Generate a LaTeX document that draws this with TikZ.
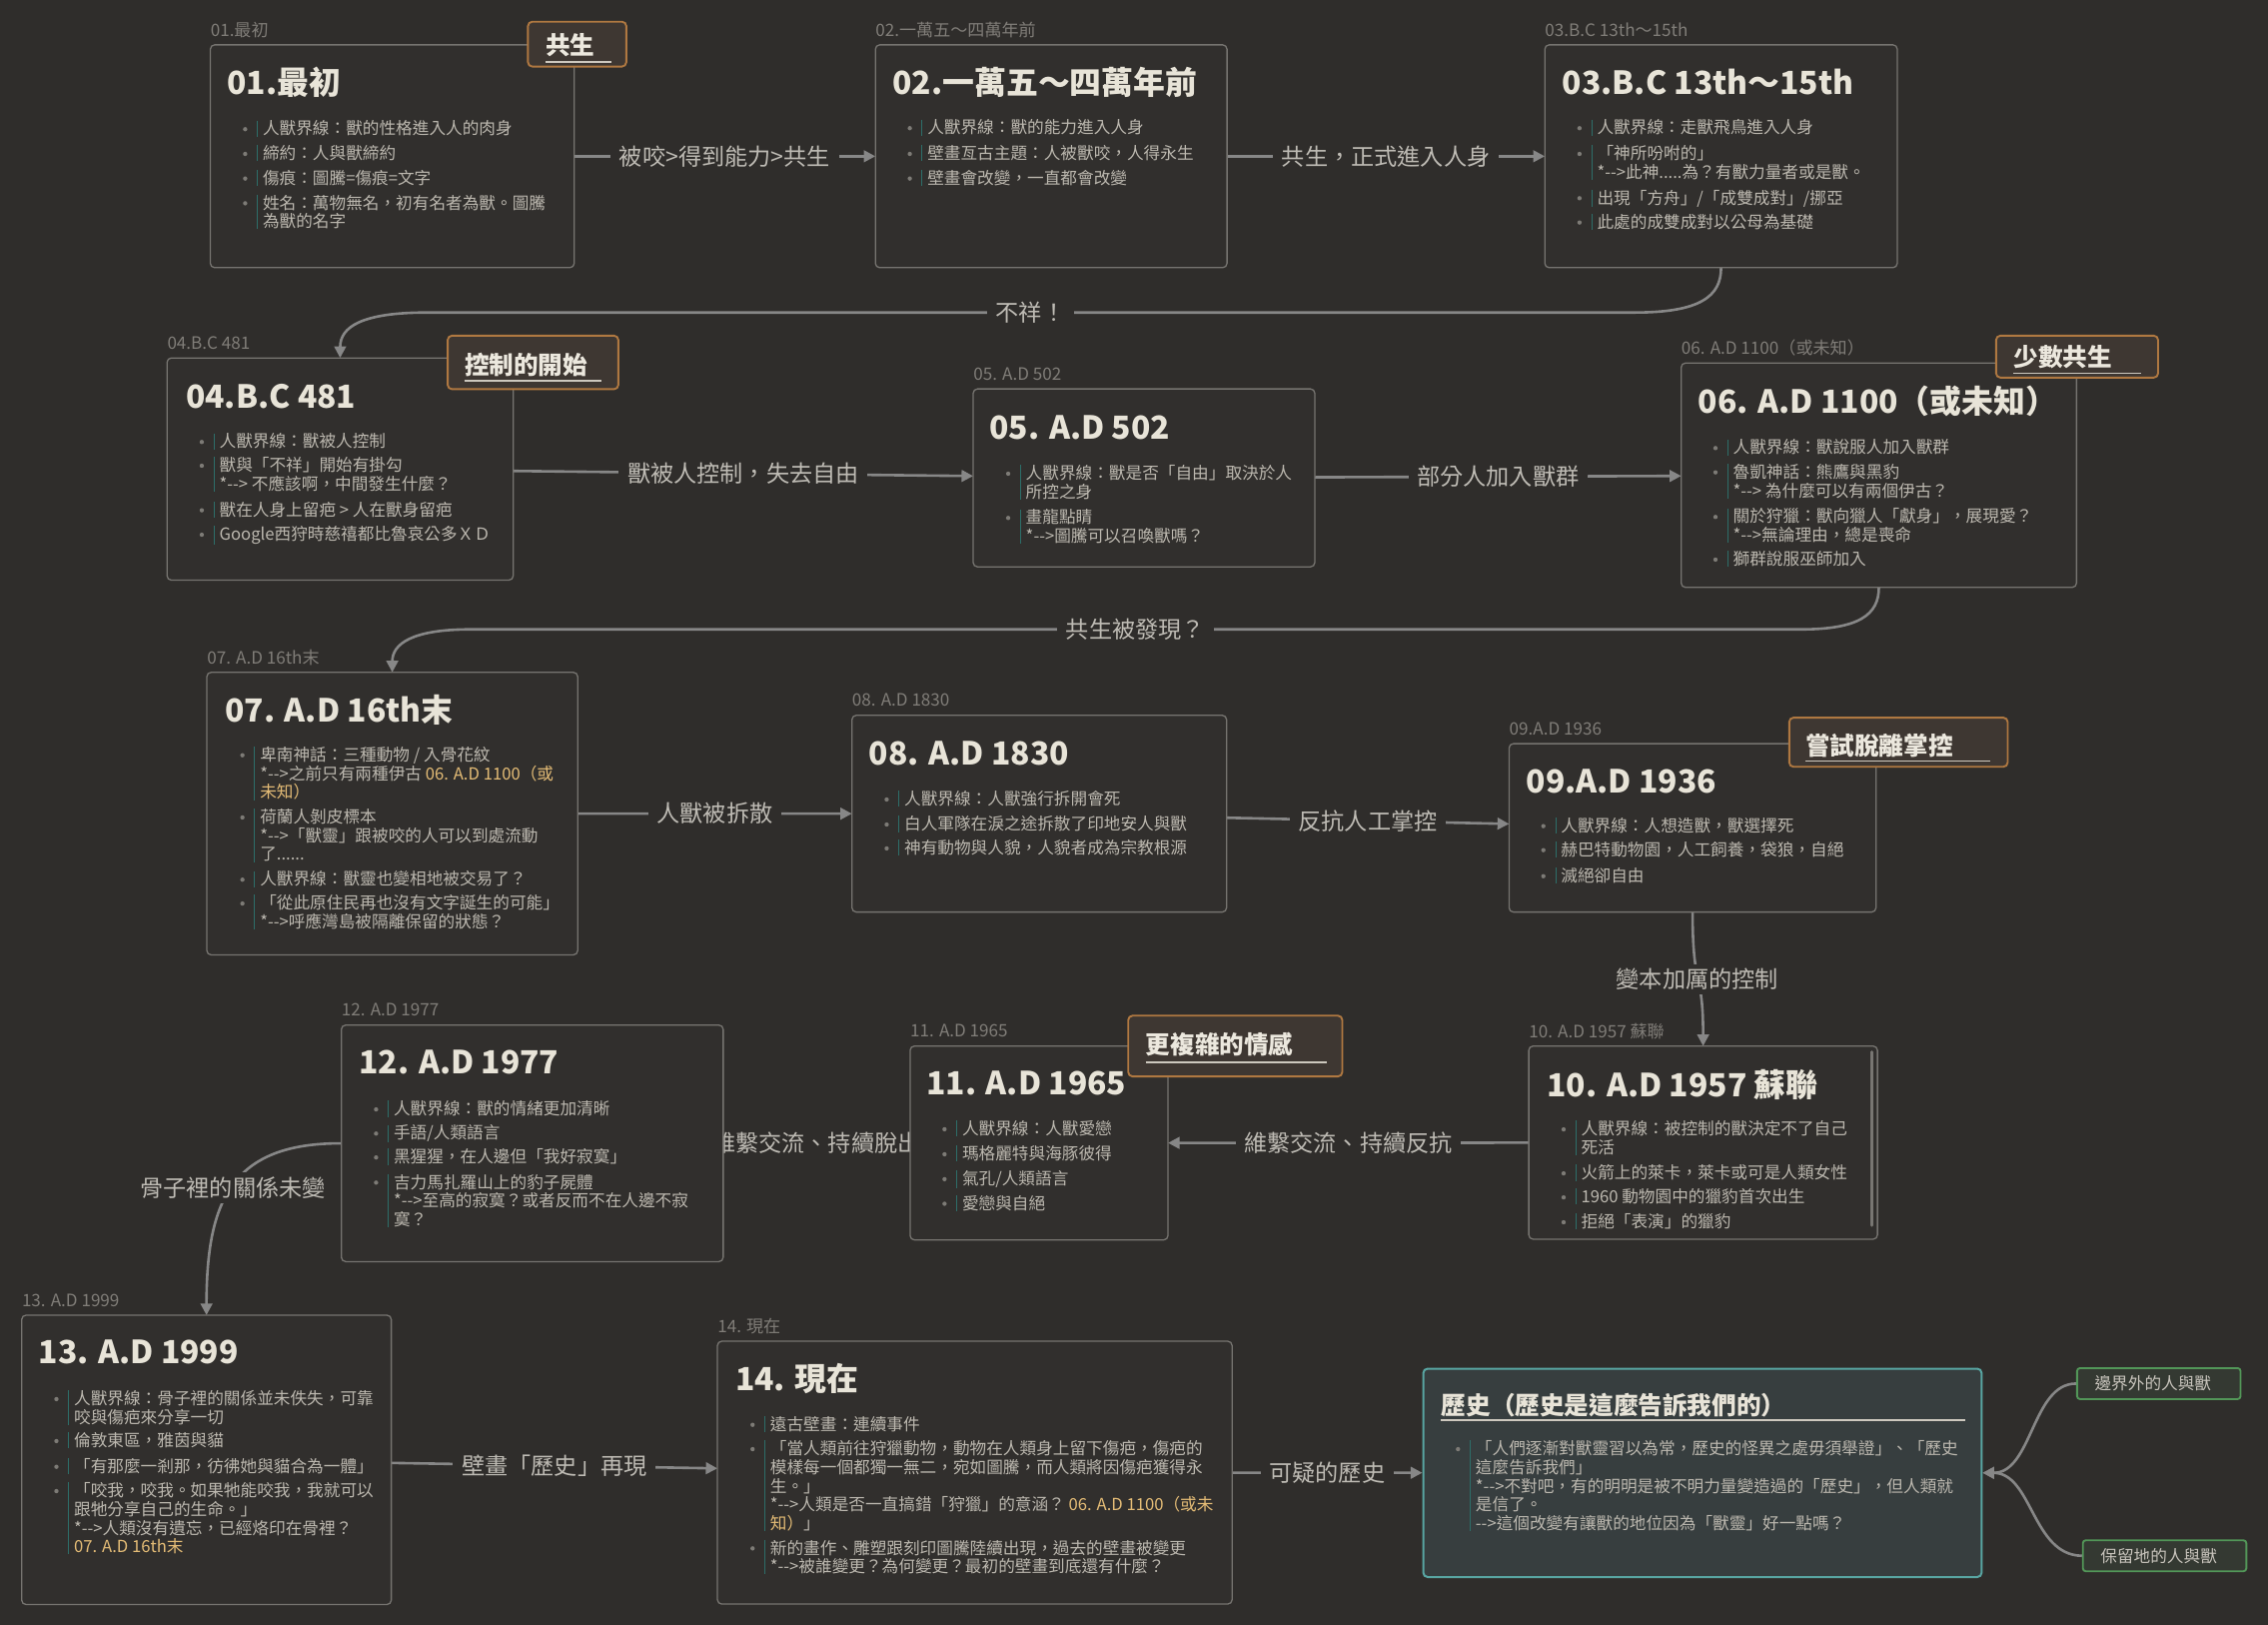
\documentclass[tikz,border=0pt]{standalone}
\usepackage{fontspec}
\setmainfont{Noto Sans CJK TC}[Ligatures=TeXOff]
\usetikzlibrary{arrows.meta,fit}
\definecolor{bgc}{RGB}{47,45,43}
\definecolor{boxfill}{RGB}{49,47,45}
\definecolor{boxc}{RGB}{118,116,112}
\definecolor{titlec}{RGB}{232,228,216}
\definecolor{bodyc}{RGB}{188,184,175}
\definecolor{smallc}{RGB}{128,125,120}
\definecolor{tealc}{RGB}{45,110,105}
\definecolor{bulc}{RGB}{125,123,118}
\definecolor{connc}{RGB}{135,135,135}
\definecolor{clabc}{RGB}{190,187,180}
\definecolor{tagc}{RGB}{175,120,65}
\definecolor{tagfill}{RGB}{62,55,50}
\definecolor{tagtextc}{RGB}{236,232,222}
\definecolor{ulc}{RGB}{205,200,190}
\definecolor{refc}{RGB}{228,188,118}
\definecolor{histfill}{RGB}{55,62,63}
\definecolor{histc}{RGB}{88,165,162}
\definecolor{sidefill}{RGB}{52,57,50}
\definecolor{sidec}{RGB}{82,150,88}
\definecolor{sidetextc}{RGB}{200,196,188}
\definecolor{scrollc}{RGB}{120,118,114}
\pgfdeclarelayer{backlayer}
\pgfdeclarelayer{connlayer}
\pgfsetlayers{backlayer,connlayer,main}
\tikzset{
 box/.style={draw=boxc, fill=boxfill, line width=0.9pt, rounded corners=3pt, inner sep=0pt, outer sep=0pt},
 toplbl/.style={font=\fontsize{11.8}{13}\selectfont, text=smallc, inner sep=0pt, anchor=west},
 ttl/.style={font=\fontsize{22}{26}\selectfont\bfseries, text=titlec, inner sep=0pt, anchor=west},
 itm/.style={font=\fontsize{11.5}{12.9}\selectfont, text=bodyc, inner sep=0pt, align=left, anchor=north west},
 tbar/.style={draw=tealc, line width=0.7pt},
 bul/.style={fill=bulc},
 conn/.style={draw=connc, line width=1.8pt, -{Triangle[length=8pt,width=8pt]}},
 clabel/.style={font=\fontsize{16}{18}\selectfont, text=clabc, fill=bgc, inner xsep=6pt, inner ysep=3pt},
 tagbox/.style={draw=tagc, fill=tagfill, line width=1.3pt, rounded corners=3pt, inner sep=0pt},
 tagtxt/.style={font=\fontsize{17}{20}\selectfont\bfseries, text=tagtextc, inner sep=0pt, anchor=west},
 tagline/.style={draw=ulc, line width=1.3pt},
 histbox/.style={draw=histc, fill=histfill, line width=1.4pt, rounded corners=3pt, inner sep=0pt},
 histttl/.style={font=\fontsize{17}{20}\selectfont\bfseries, text=titlec, inner sep=0pt, anchor=west},
 sidebox/.style={draw=sidec, fill=sidefill, line width=1.3pt, rounded corners=2pt, inner sep=0pt},
 sidetxt/.style={font=\fontsize{11.5}{13}\selectfont, text=sidetextc, inner sep=0pt, anchor=west},
}
\newcommand\titem[4]{%
  \node[itm] (#1) at (#2,-#3+6) {#4};
  \draw[tbar] ([xshift=-3.5pt]#1.north west) -- ([xshift=-3.5pt]#1.south west);
  \fill[bul] ([xshift=-12pt,yshift=-6pt]#1.north west) circle (1.5pt);
}
\newcommand\tlbox[6]{%
  \node[box, fit={(#2,-#3) (#4,-#5)}] (#1) {};
  \node[toplbl] (#1s) at (#2,-#3+10.3) {#6};
}
\begin{document}
\begin{tikzpicture}[x=1pt,y=1pt]
\begin{pgfonlayer}{backlayer}
\fill[bgc] (0,0) rectangle (1568,-1123);
\end{pgfonlayer}
\useasboundingbox (0,0) rectangle (1568,-1123);

% ---------- Box 01
\tlbox{b1}{145.4}{31}{397}{185}{01.最初}
\node[ttl] (b1h) at (157,-57) {01.最初};
\titem{b1i1}{181.5}{89.3}{人獸界線：獸的性格進入人的肉身}
\titem{b1i2}{181.5}{106.4}{締約：人與獸締約}
\titem{b1i3}{181.5}{123.4}{傷痕：圖騰=傷痕=文字}
\titem{b1i4}{181.5}{140.5}{姓名：萬物無名，初有名者為獸。圖騰\\為獸的名字}
\node[tagbox, fit={(365,-15) (433,-46)}] (g1) {};
\node[tagtxt] (g1t) at (377,-31) {共生};
\draw[tagline] (377,-43) -- (423,-43);

% ---------- Box 02
\tlbox{b2}{605.2}{31}{848.3}{185}{02.一萬五～四萬年前}
\node[ttl] (b2h) at (617,-57) {02.一萬五～四萬年前};
\titem{b2i1}{641}{88.6}{人獸界線：獸的能力進入人身}
\titem{b2i2}{641}{106.4}{壁畫亙古主題：人被獸咬，人得永生}
\titem{b2i3}{641}{123.4}{壁畫會改變，一直都會改變}

% ---------- Box 03
\tlbox{b3}{1068}{31}{1311.7}{185}{03.B.C 13th～15th}
\node[ttl] (b3h) at (1080,-56.5) {03.B.C 13th～15th};
\titem{b3i1}{1104}{88.6}{人獸界線：走獸飛鳥進入人身}
\titem{b3i2}{1104}{106.4}{「神所吩咐的」\\*-->此神.....為？有獸力量者或是獸。}
\titem{b3i3}{1104}{137}{出現「方舟」/「成雙成對」/挪亞}
\titem{b3i4}{1104}{153.8}{此處的成雙成對以公母為基礎}

% ---------- Box 04
\tlbox{b4}{115.5}{247.4}{354.8}{401}{04.B.C 481}
\node[ttl] (b4h) at (128.4,-274) {04.B.C 481};
\titem{b4i1}{151.5}{305.5}{人獸界線：獸被人控制}
\titem{b4i2}{151.5}{321.9}{獸與「不祥」開始有掛勾\\*--> 不應該啊，中間發生什麼？}
\titem{b4i3}{151.5}{352.7}{獸在人身上留疤 > 人在獸身留疤}
\titem{b4i4}{151.5}{369.6}{Google西狩時慈禧都比魯哀公多ＸＤ}
\node[tagbox, fit={(309.5,-232) (427.5,-269)}] (g4) {};
\node[tagtxt] (g4t) at (321,-252) {控制的開始};
\draw[tagline] (321,-263) -- (416,-263);

% ---------- Box 05
\tlbox{b5}{672.8}{268.8}{909}{391.8}{05. A.D 502}
\node[ttl] (b5h) at (684,-295.4) {05. A.D 502};
\titem{b5i1}{709}{327.4}{人獸界線：獸是否「自由」取決於人\\所控之身}
\titem{b5i2}{709}{358}{畫龍點睛\\*-->圖騰可以召喚獸嗎？}

% ---------- Box 06
\tlbox{b6}{1162.3}{250.9}{1435.6}{406}{06. A.D 1100（或未知）}
\node[ttl] (b6h) at (1174,-277.5) {06. A.D 1100（或未知）};
\titem{b6i1}{1198}{309.7}{人獸界線：獸說服人加入獸群}
\titem{b6i2}{1198}{326.5}{魯凱神話：熊鷹與黑豹\\*--> 為什麼可以有兩個伊古？}
\titem{b6i3}{1198}{357.3}{關於狩獵：獸向獵人「獻身」，展現愛？\\*-->無論理由，總是喪命}
\titem{b6i4}{1198}{386.8}{獅群說服巫師加入}
\node[tagbox, fit={(1380,-232) (1492,-261)}] (g6) {};
\node[tagtxt] (g6t) at (1392,-247) {少數共生};
\draw[tagline] (1392,-258) -- (1480,-258);

% ---------- Box 07
\tlbox{b7}{143}{464.7}{399.4}{660}{07. A.D 16th末}
\node[ttl] (b7h) at (155.4,-490.5) {07. A.D 16th末};
\titem{b7i1}{179.6}{522}{卑南神話：三種動物 / 入骨花紋\\*-->之前只有兩種伊古 \textcolor{refc}{06. A.D 1100（或}\\\textcolor{refc}{未知）}}
\titem{b7i2}{179.6}{565}{荷蘭人剝皮標本\\*-->「獸靈」跟被咬的人可以到處流動\\了......}
\titem{b7i3}{179.6}{608}{人獸界線：獸靈也變相地被交易了？}
\titem{b7i4}{179.6}{624.5}{「從此原住民再也沒有文字誕生的可能」\\*-->呼應灣島被隔離保留的狀態？}

% ---------- Box 08
\tlbox{b8}{589}{494.4}{848}{630.4}{08. A.D 1830}
\node[ttl] (b8h) at (600.7,-520.8) {08. A.D 1830};
\titem{b8i1}{625}{552.6}{人獸界線：人獸強行拆開會死}
\titem{b8i2}{625}{569.9}{白人軍隊在淚之途拆散了印地安人與獸}
\titem{b8i3}{625}{586.4}{神有動物與人貌，人貌者成為宗教根源}

% ---------- Box 09
\tlbox{b9}{1043.3}{514}{1297}{630.4}{09.A.D 1936}
\node[ttl] (b9h) at (1055,-540) {09.A.D 1936};
\titem{b9i1}{1079}{571}{人獸界線：人想造獸，獸選擇死}
\titem{b9i2}{1079}{587.6}{赫巴特動物園，人工飼養，袋狼，自絕}
\titem{b9i3}{1079}{605.6}{滅絕卻自由}
\node[tagbox, fit={(1237,-496) (1388,-530)}] (g9) {};
\node[tagtxt] (g9t) at (1248,-515) {嘗試脫離掌控};
\draw[tagline] (1248,-526) -- (1376,-526);

% ---------- Box 10
\tlbox{b10}{1056.9}{723}{1298}{856.5}{10. A.D 1957 蘇聯}
\node[ttl] (b10h) at (1069.4,-749.5) {10. A.D 1957 蘇聯};
\titem{b10i1}{1093}{780.6}{人獸界線：被控制的獸決定不了自己\\死活}
\titem{b10i2}{1093}{811}{火箭上的萊卡，萊卡或可是人類女性}
\titem{b10i3}{1093}{827.6}{1960 動物園中的獵豹首次出生}
\titem{b10i4}{1093}{844.8}{拒絕「表演」的獵豹}
\draw[scrollc, line width=2pt, line cap=round] (1294.3,-727) -- (1294.3,-847);

% ---------- Box 11
\tlbox{b11}{629.2}{723}{807.5}{857}{11. A.D 1965}
\node[ttl] (b11h) at (640.3,-748.7) {11. A.D 1965};
\titem{b11i1}{665}{780.5}{人獸界線：人獸愛戀}
\titem{b11i2}{665}{797.8}{瑪格麗特與海豚彼得}
\titem{b11i3}{665}{815}{氣孔/人類語言}
\titem{b11i4}{665}{832}{愛戀與自絕}
\node[tagbox, fit={(780,-702) (928,-744)}] (g11) {};
\node[tagtxt] (g11t) at (792,-722) {更複雜的情感};
\draw[tagline] (792,-734) -- (917,-734);

% ---------- Box 12
\tlbox{b12}{236}{708.5}{500}{872}{12. A.D 1977}
\node[ttl] (b12h) at (248,-734.4) {12. A.D 1977};
\titem{b12i1}{272}{766.8}{人獸界線：獸的情緒更加清晰}
\titem{b12i2}{272}{783.5}{手語/人類語言}
\titem{b12i3}{272}{800}{黑猩猩，在人邊但「我好寂寞」}
\titem{b12i4}{272}{817.4}{吉力馬扎羅山上的豹子屍體\\*-->至高的寂寞？或者反而不在人邊不寂\\寞？}

% ---------- Box 13
\tlbox{b13}{15}{909}{270.5}{1109}{13. A.D 1999}
\node[ttl] (b13h) at (26.5,-934.8) {13. A.D 1999};
\titem{b13i1}{51}{967}{人獸界線：骨子裡的關係並未佚失，可靠\\咬與傷疤來分享一切}
\titem{b13i2}{51}{996}{倫敦東區，雅茵與貓}
\titem{b13i3}{51}{1013.8}{「有那麼一剎那，彷彿她與貓合為一體」}
\titem{b13i4}{51}{1030.6}{「咬我，咬我。如果牠能咬我，我就可以\\跟牠分享自己的生命。」\\*-->人類沒有遺忘，已經烙印在骨裡？\\\textcolor{refc}{07. A.D 16th末}}

% ---------- Box 14
\tlbox{b14}{496}{927}{851.8}{1108.7}{14. 現在}
\node[ttl] (b14h) at (508.2,-953) {14. 現在};
\titem{b14i1}{532.3}{984.8}{遠古壁畫：連續事件}
\titem{b14i2}{532.3}{1001.6}{「當人類前往狩獵動物，動物在人類身上留下傷疤，傷疤的\\模樣每一個都獨一無二，宛如圖騰，而人類將因傷疤獲得永\\生。」\\*-->人類是否一直搞錯「狩獵」的意涵？ \textcolor{refc}{06. A.D 1100（或未}\\\textcolor{refc}{知）}」}
\titem{b14i3}{532.3}{1070.2}{新的畫作、雕塑跟刻印圖騰陸續出現，過去的壁畫被變更\\*-->被誰變更？為何變更？最初的壁畫到底還有什麼？}

% ---------- History
\node[histbox, fit={(984,-946) (1370,-1090)}] (hist) {};
\node[histttl] (histh) at (996.4,-971) {歷史（歷史是這麼告訴我們的）};
\draw[tagline, line width=1.1pt] (996,-981.5) -- (1359,-981.5);
\titem{histi1}{1020}{1001.6}{「人們逐漸對獸靈習以為常，歷史的怪異之處毋須舉證」、「歷史\\這麼告訴我們」\\*-->不對吧，有的明明是被不明力量變造過的「歷史」，但人類就\\是信了。\\-->這個改變有讓獸的地位因為「獸靈」好一點嗎？}

\node[sidebox, fit={(1436,-945.6) (1549,-967)}] (s1) {};
\node[sidetxt] (s1t) at (1448,-956.3) {邊界外的人與獸};
\node[sidebox, fit={(1440,-1064.6) (1553,-1086)}] (s2) {};
\node[sidetxt] (s2t) at (1452,-1075.3) {保留地的人與獸};

% ---------- Connectors
\begin{pgfonlayer}{connlayer}
\draw[conn] (b1) -- node[clabel] (l12) {被咬>得到能力>共生} (b2);
\draw[conn] (b2) -- node[clabel] (l23) {共生，正式進入人身} (b3);
\draw[conn] (b3.south) .. controls (1190,-205) and (1175,-216) .. (1130,-216) -- node[clabel] (l34) {不祥！} (295,-216) .. controls (250,-216) and (235.2,-226) .. (b4.north);
\draw[conn] (b4) -- node[clabel] (l45) {獸被人控制，失去自由} (b5);
\draw[conn] (b5) -- node[clabel] (l56) {部分人加入獸群} (b6);
\draw[conn] (b6.south) .. controls (1299,-425) and (1285,-435) .. (1245,-435) -- node[clabel] (l67) {共生被發現？} (325,-435) .. controls (285,-435) and (271.2,-445) .. (b7.north);
\draw[conn] (b7) -- node[clabel] (l78) {人獸被拆散} (b8);
\draw[conn] (b8) -- node[clabel] (l89) {反抗人工掌控} (b9);
\draw[conn] (b9.south) .. controls (1170.2,-685) and (1177.5,-670) .. (b10.north);
\node[clabel] (l910) at (1173.5,-677) {變本加厲的控制};
\draw[conn] (b10) -- node[clabel] (l1011) {維繫交流、持續反抗} (b11);
\draw[conn] (b11) -- node[clabel] (l1112) {維繫交流、持續脫出} (b12);
\draw[conn] (b12.west) .. controls (160,-790) and (142.8,-830) .. (b13.north);
\node[clabel] (l1213) at (161,-821) {骨子裡的關係未變};
\draw[conn] (b13) -- node[clabel] (l1314) {壁畫「歷史」再現} (b14);
\draw[conn] (b14) -- node[clabel] (l14h) {可疑的歷史} (hist);
\draw[conn] (s1.west) .. controls (1405,-956) and (1405,-1018) .. (hist.east);
\draw[conn] (s2.west) .. controls (1405,-1075) and (1405,-1018) .. (hist.east);
\end{pgfonlayer}
\end{tikzpicture}
\end{document}
